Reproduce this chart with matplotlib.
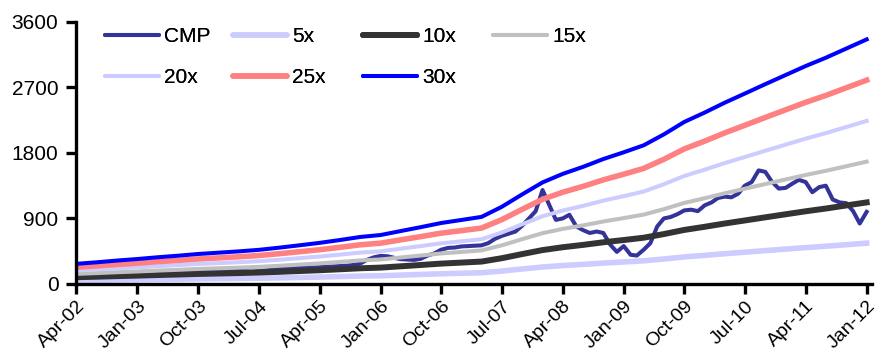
import pandas as pd
import matplotlib
matplotlib.use("Agg")
import matplotlib.pyplot as plt
import matplotlib.dates as mdates
from matplotlib.lines import Line2D

plt.rcParams["font.family"] = ["Liberation Sans", "DejaVu Sans"]

# Earnings per share, one value per quarter (Apr-02 .. Jan-12)
eps = [9.2, 9.9, 10.7, 11.4, 12.2, 12.9, 13.7, 14.3, 14.9, 15.6,
       16.6, 17.7, 18.8, 20.1, 21.5, 22.4, 24.2, 26.0, 27.9, 29.3,
       30.7, 35.3, 41.0, 46.5, 50.4, 53.6, 57.2, 60.3, 63.5, 68.5,
       74.2, 78.5, 83.0, 87.2, 91.5, 95.7, 99.8, 103.6, 107.8, 112.0]
eps_dates = pd.date_range("2002-04-01", periods=len(eps), freq="3MS")

# Current market price, one value per month (Apr-02 .. Jan-12)
cmp_price = [120, 115, 110, 105, 110, 115, 120, 115, 110, 110,
             115, 120, 125, 135, 145, 155, 165, 175, 180, 180,
             175, 170, 170, 175, 180, 175, 170, 175, 185, 195,
             205, 210, 215, 220, 225, 225, 230, 235, 240, 245,
             250, 260, 280, 330, 365, 385, 380, 360, 340, 335,
             330, 345, 390, 420, 470, 495, 500, 515, 520, 525,
             530, 560, 620, 660, 690, 720, 800, 900, 1000, 1290,
             1080, 880, 900, 950, 790, 740, 700, 720, 700, 540,
             440, 520, 400, 390, 470, 560, 790, 900, 920, 960,
             1010, 1020, 1000, 1080, 1120, 1180, 1200, 1190, 1240, 1350,
             1400, 1560, 1540, 1400, 1310, 1320, 1380, 1430, 1400, 1260,
             1330, 1350, 1160, 1120, 1110, 1000, 830, 990]
cmp_dates = pd.date_range("2002-04-01", periods=len(cmp_price), freq="MS")

multiples = [5, 10, 15, 20, 25, 30]
band_labels = ["5x", "10x", "15x", "20x", "25x", "30x"]
band_colors = ["#ccccff", "#333333", "#c0c0c0", "#ccccff", "#ff8080", "#0000ff"]
band_widths = [4.0, 4.3, 2.9, 2.9, 4.0, 2.9]

yticks = [0, 900, 1800, 2700, 3600]
xtick_dates = pd.date_range("2002-04-01", "2012-01-01", freq="9MS")


def main():
    fig = plt.figure(figsize=(8.79, 3.54), dpi=100)
    ax = fig.add_axes([0.087, 0.198, 0.905, 0.740])

    handles = {}
    line, = ax.plot(cmp_dates, cmp_price, color="#333399", lw=2.9, zorder=1)
    handles["CMP"] = line
    for m, lab, col, lw in zip(multiples, band_labels, band_colors, band_widths):
        vals = [m * e for e in eps]
        line, = ax.plot(eps_dates, vals, color=col, lw=lw, zorder=2)
        handles[lab] = line

    ax.set_ylim(0, 3600)
    ax.set_yticks(yticks)
    ax.set_xlim(pd.Timestamp("2002-04-01"), pd.Timestamp("2012-01-25"))
    ax.set_xticks(xtick_dates)
    ax.xaxis.set_major_formatter(mdates.DateFormatter("%b-%y"))
    plt.setp(ax.get_xticklabels(), rotation=45, ha="right", rotation_mode="anchor")

    for s in ["top", "right"]:
        ax.spines[s].set_visible(False)
    for s in ["left", "bottom"]:
        ax.spines[s].set_linewidth(2.4)
    ax.tick_params(width=2.4, length=7)
    ax.tick_params(axis="y", labelsize=15, pad=6)
    ax.tick_params(axis="x", labelsize=14, pad=3)

    # legend laid out as 4 fixed columns, two rows
    columns = [["CMP", "20x"], ["5x", "25x"], ["10x", "30x"], ["15x"]]
    col_x = [105, 233, 363, 493]
    for names, x in zip(columns, col_x):
        hs = [Line2D([], [], color=handles[n].get_color(), lw=handles[n].get_linewidth(),
                     solid_capstyle="round") for n in names]
        leg = fig.legend(hs, names, loc="upper left", bbox_to_anchor=(x / 879, 1 - 27 / 354),
                         frameon=False, fontsize=15, handlelength=2.6, handletextpad=0.25,
                         labelspacing=1.05, borderpad=0, borderaxespad=0)
        fig.add_artist(leg)

    fig.savefig("out.png", dpi=100)


if __name__ == "__main__":
    main()
